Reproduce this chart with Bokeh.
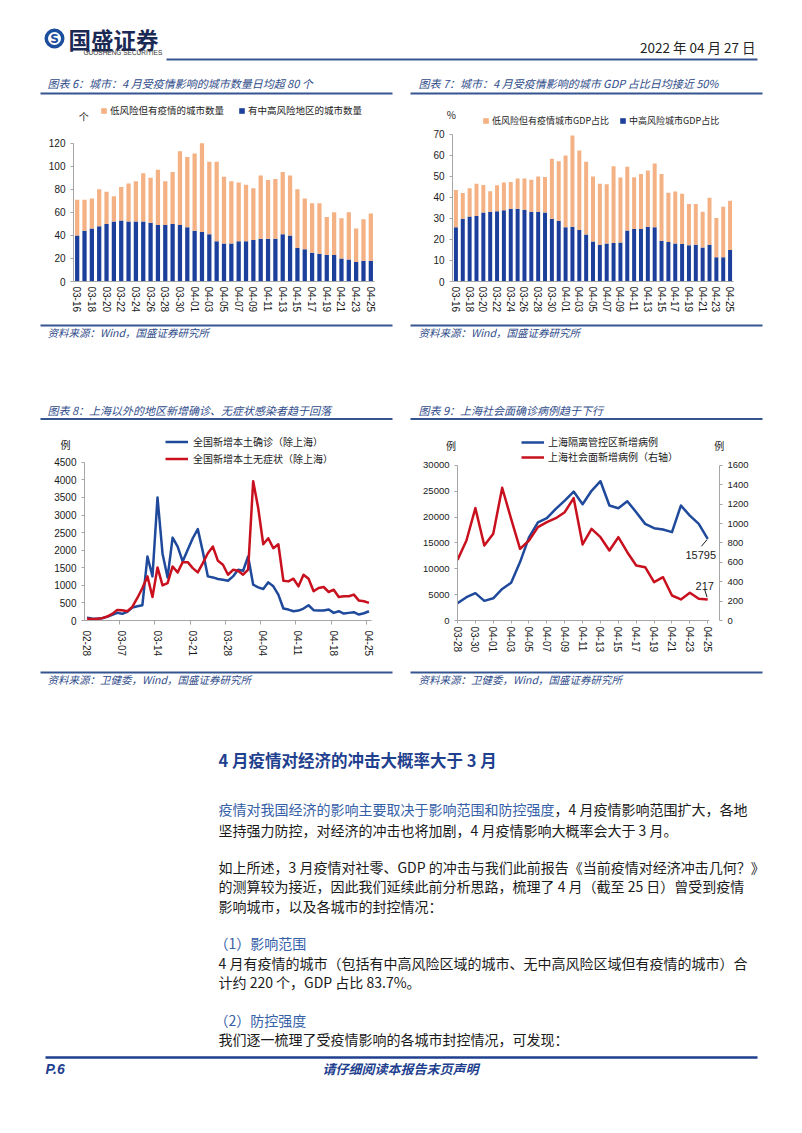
import pandas as pd
from bokeh.plotting import figure
from bokeh.models import (Range1d, FixedTicker, LinearAxis, Legend, LegendItem,
                          Label, ColumnDataSource)
from bokeh.layouts import column, row
from bokeh.embed import file_html
from bokeh.resources import INLINE
from bokeh.core.properties import value

CJK = "Noto Sans CJK SC"
NUM = "Liberation Sans"

# ------------------------------------------------------------------ data
city_dates = list(pd.date_range("2022-03-16", "2022-04-25").strftime("%m-%d"))
city_mid_high = [40, 44, 46, 48, 50, 52, 53, 52, 52, 52, 51, 49, 49, 50, 49, 47, 44, 43, 41, 35, 33,
                 33, 35, 35, 36, 37, 37, 37, 41, 40, 29, 28, 25, 24, 23, 23, 20, 19, 17, 18, 18]
city_low_risk = [31, 27, 26, 32, 28, 22, 29, 33, 35, 42, 39, 48, 38, 45, 64, 61, 67, 77, 63, 69, 58,
                 54, 51, 49, 45, 55, 51, 52, 54, 52, 51, 44, 43, 44, 33, 37, 35, 41, 29, 36, 41]

gdp_mid_high = [25.8, 29.9, 30.9, 31.2, 32.9, 33.2, 33.4, 33.9, 34.7, 34.7, 34.2, 33.2, 33.2, 32.9,
                29.9, 28.8, 25.8, 26.1, 24.5, 22.4, 19.1, 17.5, 18.1, 18.3, 18.6, 24.3, 25.0, 25.0,
                26.1, 25.8, 19.4, 18.8, 18.1, 17.8, 17.3, 17.5, 16.2, 17.5, 11.5, 11.5, 15.0]
gdp_low_risk = [17.8, 12.3, 13.5, 15.3, 13.1, 9.8, 12.4, 13.2, 12.7, 14.3, 14.8, 15.3, 16.8, 16.9,
                28.5, 28.5, 34.2, 43.4, 37.9, 34.6, 30.9, 29.1, 28.2, 36.6, 30.9, 30.4, 24.6, 26.2,
                26.7, 30.4, 31.8, 23.5, 24.7, 24.0, 19.6, 19.4, 17.0, 22.4, 18.7, 24.1, 23.5]

case_dates = list(pd.date_range("2022-02-28", "2022-04-25").strftime("%m-%d"))
confirmed_ex_sh = [75, 57, 47, 66, 104, 160, 217, 190, 245, 368, 405, 434, 1820, 1255, 3500, 1900,
                   1226, 2358, 2100, 1680, 2010, 2340, 2600, 1960, 1255, 1226, 1180, 1160, 1130,
                   1255, 1443, 1415, 1820, 1019, 943, 896, 1085, 972, 736, 340, 311, 264, 283, 340,
                   434, 292, 283, 283, 311, 217, 264, 198, 217, 236, 170, 207, 264]
asymptomatic_ex_sh = [57, 38, 47, 66, 113, 189, 302, 292, 264, 387, 641, 925, 1255, 670, 1510, 1000,
                      1066, 1538, 1368, 1660, 1660, 1490, 1368, 1632, 1915, 2104, 1698, 1585, 1302,
                      1443, 1415, 1302, 1450, 3960, 3200, 2170, 2340, 2057, 2170, 1132, 1113, 1189,
                      972, 1302, 1189, 830, 925, 953, 811, 877, 670, 689, 689, 736, 566, 547, 500]

sh_dates = list(pd.date_range("2022-03-28", "2022-04-25").strftime("%m-%d"))
sh_quarantine = [3354, 4515, 5290, 3800, 4300, 6100, 7300, 11300, 16100, 19000, 19800, 21600, 23200,
                 24960, 22500, 25100, 26960, 22250, 21740, 23090, 20960, 18700, 17870, 17600, 17100,
                 22250, 20300, 18700, 15795]
sh_community = [626, 826, 1160, 774, 895, 1370, 1050, 740, 826, 964, 1015, 1056, 1118, 1263, 785,
                946, 860, 723, 860, 705, 568, 550, 396, 447, 258, 217, 286, 224, 217]

legend6 = ["低风险但有疫情的城市数量", "有中高风险地区的城市数量"]
legend7 = ["低风险但有疫情城市GDP占比", "中高风险城市GDP占比"]
legend8 = ["全国新增本土确诊（除上海）", "全国新增本土无症状（除上海）"]
legend9 = ["上海隔离管控区新增病例", "上海社会面新增病例（右轴）"]

titles = ["图表 6：城市：4 月受疫情影响的城市数量日均超 80 个",
          "图表 7：城市：4 月受疫情影响的城市 GDP 占比日均接近 50%",
          "图表 8：上海以外的地区新增确诊、无症状感染者趋于回落",
          "图表 9：上海社会面确诊病例趋于下行"]
sources = ["资料来源：Wind，国盛证券研究所", "资料来源：Wind，国盛证券研究所",
           "资料来源：卫健委，Wind，国盛证券研究所", "资料来源：卫健委，Wind，国盛证券研究所"]

heading = "4 月疫情对经济的冲击大概率大于 3 月"
p1_blue = "疫情对我国经济的影响主要取决于影响范围和防控强度"
p1_rest = "，4 月疫情影响范围扩大，各地"
p1_l2 = "坚持强力防控，对经济的冲击也将加剧，4 月疫情影响大概率会大于 3 月。"
p2_lines = ["如上所述，3 月疫情对社零、GDP 的冲击与我们此前报告《当前疫情对经济冲击几何？》",
            "的测算较为接近，因此我们延续此前分析思路，梳理了 4 月（截至 25 日）曾受到疫情",
            "影响城市，以及各城市的封控情况："]
sub1 = "（1）影响范围"
p3_lines = ["4 月有疫情的城市（包括有中高风险区域的城市、无中高风险区域但有疫情的城市）合",
            "计约 220 个，GDP 占比 83.7%。"]
sub2 = "（2）防控强度"
p4_lines = ["我们逐一梳理了受疫情影响的各城市封控情况，可发现："]

# ------------------------------------------------------------------ styles
BAR_BLUE = "#1B3F9B"
BAR_ORANGE = "#F4B183"
LINE_BLUE = "#1F4A9C"
LINE_RED = "#C8101E"
RULE = "#34558F"
TITLE_C = "#2F4C8A"
AXIS_C = "#A6A6A6"
TXT_BLUE = "#3560A8"


def style_axis(ax, size="10px"):
    ax.axis_line_color = AXIS_C
    ax.major_tick_line_color = AXIS_C
    ax.minor_tick_line_color = AXIS_C
    ax.major_label_text_font = NUM
    ax.major_label_text_font_size = size
    ax.major_label_text_color = "#1a1a1a"
    ax.major_tick_in = 0
    ax.minor_tick_in = 0


def unit_label(p, x, y, t, place=None, **kw):
    lab = Label(x=x, y=y, text=t, text_font=CJK, text_font_size="10px",
                text_align="center", text_baseline="middle", text_color="#1a1a1a", **kw)
    if place:
        p.add_layout(lab, place)
    else:
        p.add_layout(lab)


def bar_chart(dates, mid, low, labels, w, h, border, ytop, ymax, ystep, legend_xy, font_size,
              spacing):
    n = len(dates)
    src = ColumnDataSource(dict(x=list(range(n)), mid=mid, low=low))
    bl, br, bt, bb = border
    p = figure(width=w, height=h, output_backend="svg", toolbar_location=None,
               x_range=Range1d(-0.5, n - 0.5), y_range=Range1d(0, ytop),
               min_border_left=bl, min_border_right=br, min_border_top=bt, min_border_bottom=bb)
    p.outline_line_color = None
    p.grid.visible = False
    rs = p.vbar_stack(["mid", "low"], x="x", width=0.58, fill_color=[BAR_BLUE, BAR_ORANGE],
                      line_color=None, source=src)
    leg = Legend(items=[LegendItem(label=labels[0], renderers=[rs[1]]),
                        LegendItem(label=labels[1], renderers=[rs[0]])],
                 orientation="horizontal", location=legend_xy, padding=0, margin=0,
                 spacing=spacing, glyph_width=7, glyph_height=7, label_standoff=3,
                 label_height=8, label_width=10, label_text_font=CJK,
                 label_text_font_size=font_size, label_text_color="#1a1a1a",
                 border_line_color=None, background_fill_alpha=0)
    p.add_layout(leg)
    ya = p.yaxis[0]
    style_axis(ya)
    ya.ticker = FixedTicker(ticks=list(range(0, ymax + 1, ystep)))
    ya.bounds = (0, ymax)
    ya.major_tick_out = 3
    xa = p.xaxis[0]
    style_axis(xa)
    xa.ticker = FixedTicker(ticks=list(range(0, n, 2)))
    xa.major_label_overrides = {i: dates[i] for i in range(0, n, 2)}
    xa.major_label_orientation = "vertical"
    xa.major_tick_out = 0
    xa.major_label_standoff = 5
    return p


c6 = bar_chart(city_dates, city_mid_high, city_low_risk, legend6, 410, 225, (73, 36, 6, 40),
               154.5, 120, 20, (27, 164), "9.5px", 14)
unit_label(c6, 0.9, 143, "个")
c7 = bar_chart(city_dates, gdp_mid_high, gdp_low_risk, legend7, 390, 225, (42, 67, 6, 41),
               84.76, 70, 10, (30, 154), "9px", 10)
unit_label(c7, -0.65, 79.3, "%", place="left")

# ---- chart 8
n8 = len(case_dates)
c8 = figure(width=410, height=248, output_backend="svg", toolbar_location=None,
            x_range=Range1d(-0.5, n8 - 0.5), y_range=Range1d(0, 5349),
            min_border_left=84, min_border_right=39, min_border_top=12, min_border_bottom=47)
c8.outline_line_color = None
c8.grid.visible = False
src8 = ColumnDataSource(dict(x=list(range(n8)), conf=confirmed_ex_sh, asym=asymptomatic_ex_sh))
r8b = c8.line("x", "conf", source=src8, line_color=LINE_BLUE, line_width=2.5, line_join="round")
r8r = c8.line("x", "asym", source=src8, line_color=LINE_RED, line_width=2.5, line_join="round")
c8.add_layout(Legend(items=[LegendItem(label=legend8[0], renderers=[r8b]),
                            LegendItem(label=legend8[1], renderers=[r8r])],
                     orientation="vertical", location=(81, 153), padding=0, margin=0, spacing=0,
                     glyph_width=23, glyph_height=17, label_standoff=5, label_height=17,
                     label_text_font=CJK, label_text_font_size="10px", label_text_color="#1a1a1a",
                     border_line_color=None, background_fill_alpha=0))
unit_label(c8, -4.27, 5010, "例", place="left")
ya = c8.yaxis[0]
style_axis(ya)
ya.ticker = FixedTicker(ticks=list(range(0, 4501, 500)))
ya.bounds = (0, 4500)
ya.major_tick_out = 3
xa = c8.xaxis[0]
style_axis(xa)
lab8 = list(range(0, n8, 7))
xa.ticker = FixedTicker(ticks=lab8, minor_ticks=[i + 6.5 for i in lab8[:-1]])
xa.major_label_overrides = {i: case_dates[i] for i in lab8}
xa.major_label_orientation = "vertical"
xa.major_tick_out = 0
xa.minor_tick_out = 4
xa.major_label_standoff = 6

# ---- chart 9
n9 = len(sh_dates)
c9 = figure(width=390, height=248, output_backend="svg", toolbar_location=None,
            x_range=Range1d(0, 28.2), y_range=Range1d(0, 36387),
            min_border_left=42, min_border_right=78, min_border_top=12, min_border_bottom=48)
c9.extra_y_ranges = {"right": Range1d(0, 1940.6)}
c9.outline_line_color = None
c9.grid.visible = False
src9 = ColumnDataSource(dict(x=list(range(n9)), q=sh_quarantine, c=sh_community))
r9b = c9.line("x", "q", source=src9, line_color=LINE_BLUE, line_width=2.5, line_join="round")
r9r = c9.line("x", "c", source=src9, line_color=LINE_RED, line_width=2.5, line_join="round",
              y_range_name="right")
c9.add_layout(Legend(items=[LegendItem(label=legend9[0], renderers=[r9b]),
                            LegendItem(label=legend9[1], renderers=[r9r])],
                     orientation="vertical", location=(64, 156), padding=0, margin=0, spacing=0,
                     glyph_width=23, glyph_height=14, label_standoff=4, label_height=14,
                     label_text_font=CJK, label_text_font_size="10px", label_text_color="#1a1a1a",
                     border_line_color=None, background_fill_alpha=0))
unit_label(c9, -0.73, 33862, "例", place="left")
unit_label(c9, 29.3, 33862, "例", place="right")
ya = c9.yaxis[0]
style_axis(ya, "9.5px")
ya.ticker = FixedTicker(ticks=list(range(0, 30001, 5000)))
ya.bounds = (0, 30000)
ya.major_tick_out = 3
ra = LinearAxis(y_range_name="right", ticker=FixedTicker(ticks=list(range(0, 1601, 200))),
                bounds=(0, 1600))
style_axis(ra, "9.5px")
ra.major_tick_out = 3
c9.add_layout(ra, "right")
xa = c9.xaxis[0]
style_axis(xa)
xa.ticker = FixedTicker(ticks=list(range(0, n9, 2)))
xa.major_label_overrides = {i: sh_dates[i] for i in range(0, n9, 2)}
xa.major_label_orientation = "vertical"
xa.major_tick_out = 3
xa.major_label_standoff = 3
# end-point annotations
px_x = 28.2 / 270.0
px_yl = 36387 / 188.0
px_yr = 1940.6 / 188.0
last = n9 - 1
c9.add_layout(Label(x=last, y=sh_quarantine[-1], text=str(sh_quarantine[-1]), x_offset=-7,
                    y_offset=-16, text_font=NUM, text_font_size="11px", text_align="center",
                    text_baseline="middle", text_color="#1a1a1a"), "right")
c9.segment(x0=[last - 6.7 * px_x], y0=[sh_quarantine[-1] - 7.4 * px_yl],
           x1=[last - 0.7 * px_x], y1=[sh_quarantine[-1] - 0.7 * px_yl],
           line_color="#1a1a1a", line_width=1)
c9.add_layout(Label(x=last, y=sh_community[-1], text=str(sh_community[-1]), x_offset=-3,
                    y_offset=13, text_font=NUM, text_font_size="11px", text_align="center",
                    text_baseline="middle", text_color="#1a1a1a", y_range_name="right"), "right")
c9.segment(x0=[last - 3.3 * px_x], y0=[sh_community[-1] + 10 * px_yr],
           x1=[last - 0.7 * px_x], y1=[sh_community[-1] + 2.3 * px_yr],
           line_color="#1a1a1a", line_width=1, y_range_name="right")


# ------------------------------------------------------------------ page bands
PAGE_W = 800


def band(top, bottom):
    p = figure(width=PAGE_W, height=bottom - top, x_range=Range1d(0, PAGE_W),
               y_range=Range1d(bottom, top), output_backend="svg", toolbar_location=None,
               x_axis_type=None, y_axis_type=None, min_border=0)
    p.min_border_left = p.min_border_right = p.min_border_top = p.min_border_bottom = 0
    p.outline_line_color = None
    return p


def txt(p, x, y, s, size, color="#1a1a1a", style="normal", align="left", font=CJK):
    p.text(x=[x], y=[y], text=[s], text_font=value(font), text_font_size=value(size),
           text_color=color, text_font_style=value(style), text_align=value(align),
           text_baseline=value("middle"))


def rule(p, x0, x1, y, w=2, color=RULE):
    p.segment(x0=[x0], y0=[y], x1=[x1], y1=[y], line_color=color, line_width=w)


# band A: header + titles of charts 6/7
bA = band(0, 97)
bA.annulus(x=[54], y=[38], inner_radius=6.5, outer_radius=10, fill_color="#1C4E9E",
           line_color=None)
txt(bA, 54, 38.5, "S", "12px", color="#1C4E9E", style="bold", align="center", font="DejaVu Sans")
txt(bA, 68, 38, "国盛证券", "22.5px", color="#1B2A55", style="bold")
txt(bA, 83, 52, "GUOSHENG SECURITIES", "6.5px", color="#333333", font=NUM)
txt(bA, 755, 46, "2022 年 04 月 27 日", "13.5px", color="#222222", align="right")
rule(bA, 166, 757, 59, 2)
txt(bA, 47, 82, titles[0], "11px", TITLE_C, "italic")
txt(bA, 418, 82, titles[1], "11px", TITLE_C, "italic")
rule(bA, 40, 392, 93)
rule(bA, 410, 762, 93)

# band B: sources 6/7 + titles 8/9
bB = band(322, 420)
rule(bB, 40, 392, 325)
rule(bB, 410, 762, 325)
txt(bB, 47, 332, sources[0], "10.5px", TITLE_C, "italic")
txt(bB, 418, 332, sources[1], "10.5px", TITLE_C, "italic")
txt(bB, 47, 409, titles[2], "11px", TITLE_C, "italic")
txt(bB, 418, 409, titles[3], "11px", TITLE_C, "italic")
rule(bB, 40, 392, 418.5)
rule(bB, 410, 762, 418.5)

# band C: sources 8/9 + body text + footer
bC = band(668, 1130)
rule(bC, 40, 392, 672)
rule(bC, 410, 762, 672)
txt(bC, 47, 679, sources[2], "10.5px", TITLE_C, "italic")
txt(bC, 418, 679, sources[3], "10.5px", TITLE_C, "italic")
txt(bC, 218, 759, heading, "16.5px", "#1F3F8F", "bold")
txt(bC, 218, 808, p1_blue, "14px", TXT_BLUE)
txt(bC, 554, 808, p1_rest, "14px")
txt(bC, 218, 829, p1_l2, "14px")
for k, s in enumerate(p2_lines):
    txt(bC, 218, 866 + 19.5 * k, s, "14px")
txt(bC, 214, 942, sub1, "14px", TXT_BLUE)
for k, s in enumerate(p3_lines):
    txt(bC, 218, 962 + 19.5 * k, s, "14px")
txt(bC, 214, 1019, sub2, "14px", TXT_BLUE)
for k, s in enumerate(p4_lines):
    txt(bC, 218, 1038 + 19.5 * k, s, "14px")
rule(bC, 45, 757, 1057, 2.5, "#1F3F8F")
txt(bC, 45, 1068, "P.6", "14px", "#1F3F8F", "bold italic", font=NUM)
txt(bC, 400, 1068, "请仔细阅读本报告末页声明", "13px", "#1F3F8F", "bold italic", align="center")

page = column(bA, row(c6, c7), bB, row(c8, c9), bC)
open("out.html", "w").write(file_html(page, INLINE))
